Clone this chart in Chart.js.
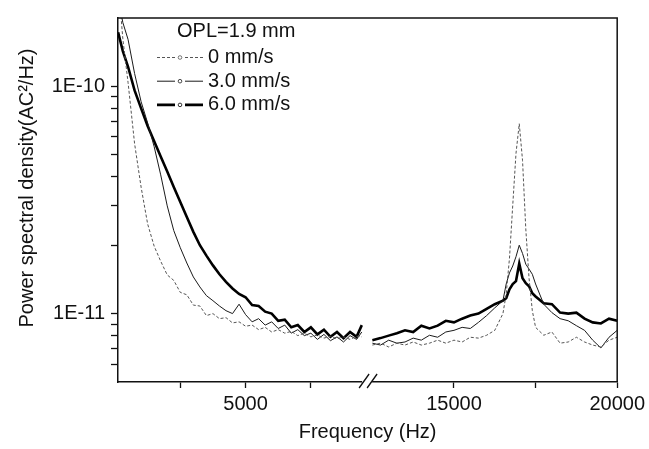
<!DOCTYPE html>
<html>
<head>
<meta charset="utf-8">
<script src="https://cdn.jsdelivr.net/npm/chart.js@4.4.1/dist/chart.umd.min.js"></script>
<style>
  html, body { margin: 0; padding: 0; background: #fff; }
  #wrap { width: 649px; height: 449px; }
</style>
</head>
<body>
<div id="wrap"><canvas id="psdChart"></canvas></div>
<script>
// frequencies (Hz) on each side of the axis break
const freqLow = [120, 300, 500, 750, 1000, 1250, 1500, 1750, 2000, 2250, 2500, 2750, 3000, 3250, 3500, 3750, 4000, 4250, 4500, 4750,
  5000, 5250, 5500, 5750, 6000, 6250, 6500, 6750, 7000, 7250, 7500, 7750, 8000, 8250, 8500, 8750, 9000, 9250, 9450];
const freqHigh = [12500, 12750, 13000, 13250, 13500, 13750, 14000, 14250, 14500, 14750, 15000, 15250, 15500, 15750, 16000, 16250,
  16500, 16600, 16700, 16800, 16900, 17000, 17100, 17200, 17300, 17400, 17500, 17750, 18000, 18250, 18500, 18750, 19000, 19250, 19500, 19750, 20000];

// power spectral density (AC^2/Hz), 0 mm/s
const psd0Low = [2.9e-10, 1.62e-10, 1.04e-10, 5.6e-11, 3.6e-11, 2.48e-11, 1.98e-11, 1.70e-11, 1.48e-11, 1.40e-11, 1.24e-11, 1.21e-11, 1.09e-11, 1.08e-11, 9.8e-12, 1.0e-11, 9.5e-12, 9.6e-12, 9.1e-12, 9.2e-12,
  8.8e-12, 8.9e-12, 8.5e-12, 8.7e-12, 8.3e-12, 8.5e-12, 8.2e-12, 8.35e-12, 8.0e-12, 8.2e-12, 7.9e-12, 8.05e-12, 7.8e-12, 7.95e-12, 7.75e-12, 7.9e-12, 7.7e-12, 7.95e-12, 7.9e-12];
const psd0High = [7.27e-12, 7.41e-12, 7.13e-12, 7.41e-12, 7.27e-12, 7.5e-12, 7.27e-12, 7.41e-12, 7.64e-12, 7.41e-12, 7.64e-12, 7.5e-12, 7.87e-12, 7.8e-12, 8.03e-12, 8.44e-12,
  1.0e-11, 1.22e-11, 1.75e-11, 2.99e-11, 5.07e-11, 6.85e-11, 4.73e-11, 2.36e-11, 1.43e-11, 1.03e-11, 8.7e-12, 8.03e-12, 8.3e-12, 7.41e-12, 7.5e-12, 7.87e-12, 7.5e-12, 7.27e-12, 7.13e-12, 7.64e-12, 7.87e-12];

// 3.0 mm/s
const psd3Low = [2.45e-10, 1.91e-10, 1.61e-10, 1.14e-10, 8.56e-11, 6.9e-11, 5.43e-11, 4.08e-11, 2.98e-11, 2.32e-11, 1.95e-11, 1.67e-11, 1.45e-11, 1.31e-11, 1.20e-11, 1.14e-11, 1.08e-11, 1.03e-11, 1.0e-11, 1.10e-11,
  9.9e-12, 9.2e-12, 9.5e-12, 8.9e-12, 9.2e-12, 8.6e-12, 8.9e-12, 8.2e-12, 8.5e-12, 8.0e-12, 8.2e-12, 7.7e-12, 8.1e-12, 7.6e-12, 7.9e-12, 7.5e-12, 8.0e-12, 7.7e-12, 8.3e-12];
const psd3High = [7.41e-12, 7.27e-12, 7.64e-12, 7.41e-12, 7.5e-12, 7.8e-12, 7.64e-12, 8.03e-12, 7.87e-12, 8.3e-12, 8.44e-12, 8.7e-12, 8.6e-12, 9.15e-12, 9.8e-12, 1.06e-11,
  1.14e-11, 1.35e-11, 1.51e-11, 1.62e-11, 1.78e-11, 2.0e-11, 1.84e-11, 1.65e-11, 1.57e-11, 1.49e-11, 1.35e-11, 1.10e-11, 1.01e-11, 9.5e-12, 9.3e-12, 8.85e-12, 8.44e-12, 7.64e-12, 7.06e-12, 7.87e-12, 8.44e-12];

// 6.0 mm/s
const psd6Low = [1.73e-10, 1.43e-10, 1.22e-10, 9.6e-11, 8.0e-11, 6.7e-11, 5.73e-11, 4.91e-11, 4.22e-11, 3.61e-11, 3.10e-11, 2.66e-11, 2.29e-11, 2.0e-11, 1.80e-11, 1.63e-11, 1.49e-11, 1.38e-11, 1.29e-11, 1.22e-11,
  1.18e-11, 1.09e-11, 1.08e-11, 1.02e-11, 1.0e-11, 9.3e-12, 9.4e-12, 8.7e-12, 8.9e-12, 8.3e-12, 8.7e-12, 8.1e-12, 8.5e-12, 7.9e-12, 8.3e-12, 7.8e-12, 8.3e-12, 7.9e-12, 8.9e-12];
const psd6High = [7.64e-12, 7.8e-12, 8.0e-12, 8.2e-12, 8.44e-12, 8.3e-12, 8.85e-12, 8.6e-12, 8.85e-12, 9.3e-12, 9.15e-12, 9.5e-12, 9.8e-12, 1.0e-11, 1.05e-11, 1.10e-11,
  1.14e-11, 1.17e-11, 1.28e-11, 1.35e-11, 1.39e-11, 1.66e-11, 1.43e-11, 1.36e-11, 1.32e-11, 1.23e-11, 1.19e-11, 1.11e-11, 1.10e-11, 1.01e-11, 1.0e-11, 1.01e-11, 9.5e-12, 9.15e-12, 9.05e-12, 9.5e-12, 9.3e-12];

const seriesNames = ["0 mm/s", "3.0 mm/s", "6.0 mm/s"];
const legendTitle = "OPL=1.9 mm";
const yTitle = "Power spectral density(AC\u00B2/Hz)";

const xTicks = [2500, 5000, 7500, 15000, 17500, 20000];
const xTickLabels = ["", "5000", "", "15000", "", "20000"];
const yTicks = [6e-12, 7e-12, 8e-12, 9e-12, 1e-11, 2e-11, 3e-11, 4e-11, 5e-11, 6e-11, 7e-11, 8e-11, 9e-11, 1e-10];
const yTickLabels = ["", "", "", "", "1E-11", "", "", "", "", "", "", "", "", "1E-10"];

// broken x axis: two linear pieces with a small gap between them
const lowRange = [115, 9500];
const highRange = [12400, 20000];
const lowShare = 0.491;
const highStart = 0.503;

class BrokenLinearScale extends Chart.LinearScale {
  getPixelForValue(value) {
    if (value === null || value === undefined) return NaN;
    let t;
    if (value <= lowRange[1]) {
      t = (value - lowRange[0]) / (lowRange[1] - lowRange[0]) * lowShare;
    } else if (value >= highRange[0]) {
      t = highStart + (value - highRange[0]) / (highRange[1] - highRange[0]) * (1 - highStart);
    } else {
      t = lowShare + (value - lowRange[1]) / (highRange[0] - lowRange[1]) * (highStart - lowShare);
    }
    return this.left + t * this.width;
  }
}
BrokenLinearScale.id = "brokenLinear";
BrokenLinearScale.defaults = Chart.LinearScale.defaults;
Chart.register(BrokenLinearScale);

function toPoints(low, high) {
  const pts = freqLow.map((f, i) => ({ x: f, y: low[i] }));
  pts.push({ x: 11000, y: null });
  return pts.concat(freqHigh.map((f, i) => ({ x: f, y: high[i] })));
}

const font = '"Liberation Sans", Arial, sans-serif';

const legendPlugin = {
  id: "oplLegend",
  afterDatasetsDraw(chart) {
    const { ctx, chartArea } = chart;
    const x0 = chartArea.left + 39;
    const y0 = chartArea.top + 13.5;
    ctx.save();
    ctx.font = "20px " + font;
    ctx.fillStyle = "#111";
    ctx.textBaseline = "middle";
    ctx.fillText(legendTitle, x0 + 20, y0);
    chart.data.datasets.forEach((ds, i) => {
      const y = y0 + 26 + i * 23.7;
      ctx.strokeStyle = ds.borderColor;
      ctx.lineWidth = ds.borderWidth;
      ctx.setLineDash(ds.borderDash || []);
      ctx.beginPath();
      ctx.moveTo(x0, y); ctx.lineTo(x0 + 18, y);
      ctx.moveTo(x0 + 28, y); ctx.lineTo(x0 + 46, y);
      ctx.stroke();
      ctx.setLineDash([]);
      ctx.lineWidth = 0.8;
      ctx.beginPath();
      ctx.arc(x0 + 23, y, 1.8, 0, Math.PI * 2);
      ctx.stroke();
      ctx.fillText(ds.label, x0 + 51, y);
    });
    ctx.restore();
  }
};

const framePlugin = {
  id: "frame",
  afterDraw(chart) {
    const { ctx, chartArea: a, scales } = chart;
    ctx.save();
    ctx.strokeStyle = "#111";
    ctx.lineWidth = 1.5;
    ctx.beginPath();
    ctx.moveTo(a.left, a.top);
    ctx.lineTo(a.right, a.top);
    ctx.lineTo(a.right, a.bottom);
    ctx.stroke();
    // break mark on the x axis
    const bx = (scales.x.getPixelForValue(lowRange[1]) + scales.x.getPixelForValue(highRange[0])) / 2;
    ctx.fillStyle = "#fff";
    ctx.fillRect(bx - 4, a.bottom - 2, 10, 4);
    ctx.lineWidth = 1.3;
    ctx.beginPath();
    ctx.moveTo(bx - 7, a.bottom + 6); ctx.lineTo(bx + 3, a.bottom - 8);
    ctx.moveTo(bx + 1, a.bottom + 6); ctx.lineTo(bx + 11, a.bottom - 8);
    ctx.stroke();
    // y axis title, sitting a little above the middle as in the original
    ctx.translate(27, (a.top + a.bottom) / 2 - 12);
    ctx.rotate(-Math.PI / 2);
    ctx.font = "20px " + font;
    ctx.fillStyle = "#111";
    ctx.textAlign = "center";
    ctx.textBaseline = "middle";
    ctx.fillText(yTitle, 0, 0);
    ctx.restore();
  }
};

new Chart(document.getElementById("psdChart"), {
  type: "line",
  data: {
    datasets: [
      { label: seriesNames[0], data: toPoints(psd0Low, psd0High), borderColor: "#555", borderWidth: 1, borderDash: [3, 2] },
      { label: seriesNames[1], data: toPoints(psd3Low, psd3High), borderColor: "#1a1a1a", borderWidth: 1 },
      { label: seriesNames[2], data: toPoints(psd6Low, psd6High), borderColor: "#000", borderWidth: 2.6 }
    ]
  },
  options: {
    responsive: true,
    maintainAspectRatio: false,
    animation: false,
    events: [],
    spanGaps: false,
    elements: { point: { radius: 0 }, line: { tension: 0 } },
    layout: { padding: { left: 0, top: 13, right: 30, bottom: 0 } },
    plugins: { legend: { display: false }, tooltip: { enabled: false } },
    scales: {
      x: {
        type: "brokenLinear",
        min: lowRange[0],
        max: highRange[1],
        afterBuildTicks: (axis) => { axis.ticks = xTicks.map(v => ({ value: v })); },
        afterFit: (axis) => { axis.height = 67; },
        ticks: {
          autoSkip: false, maxRotation: 0, padding: 4, color: "#111",
          font: { family: font, size: 20 },
          callback: (value, index) => xTickLabels[index]
        },
        grid: { drawOnChartArea: false, tickLength: 6, color: "#111", tickWidth: 1.3 },
        border: { color: "#111", width: 1.5 },
        title: { display: true, text: "Frequency (Hz)", color: "#111", font: { family: font, size: 20 }, padding: { bottom: 5 } }
      },
      y: {
        type: "logarithmic",
        min: 5e-12,
        max: 2e-10,
        afterBuildTicks: (axis) => { axis.ticks = yTicks.map(v => ({ value: v })); },
        afterFit: (axis) => { axis.width = 118; },
        ticks: {
          autoSkip: false, padding: 6, color: "#111",
          font: { family: font, size: 20 },
          callback: (value, index) => yTickLabels[index]
        },
        grid: { drawOnChartArea: false, tickLength: 7, color: "#111", tickWidth: 1.3 },
        border: { color: "#111", width: 1.5 }
      }
    }
  },
  plugins: [legendPlugin, framePlugin]
});
</script>
</body>
</html>
